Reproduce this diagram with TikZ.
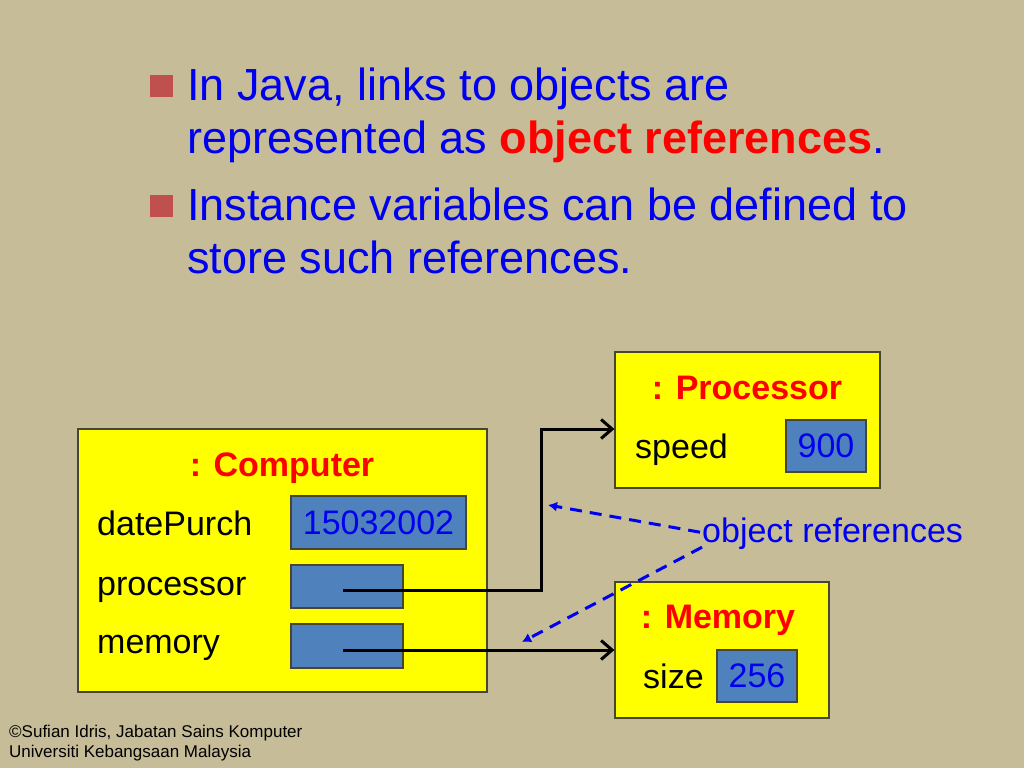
\documentclass[tikz,border=0pt]{standalone}
\usepackage{fontspec}
\setmainfont{Liberation Sans}
\usetikzlibrary{arrows.meta}
\definecolor{bg}{RGB}{198,188,151}
\definecolor{txtblue}{RGB}{0,0,240}
\definecolor{txtred}{RGB}{255,0,0}
\definecolor{bul}{RGB}{192,80,77}
\definecolor{valblue}{RGB}{79,129,189}
\definecolor{boxyellow}{RGB}{255,255,0}
\definecolor{edge}{RGB}{70,70,50}
\begin{document}
\begin{tikzpicture}[x=1pt,y=-1pt,
  big/.style={font=\fontsize{45}{54}\selectfont, text=txtblue, inner sep=0, anchor=base west},
  lbl/.style={font=\fontsize{34}{40}\selectfont, inner sep=0, anchor=base west},
  ttl/.style={font=\fontsize{34}{40}\selectfont\bfseries, text=txtred, inner sep=0, anchor=base},
  objbox/.style={draw=edge, fill=boxyellow, line width=1.2pt, inner sep=0},
  valbox/.style={draw=edge, fill=valblue, line width=1.2pt, inner sep=0, text=txtblue, font=\fontsize{34}{40}\selectfont},
  bulletsq/.style={fill=bul, inner sep=0, minimum width=23pt, minimum height=22pt},
  link/.style={line width=3pt, -{Straight Barb[length=11pt,width=19pt]}},
  refarrow/.style={line width=3pt, draw=txtblue, dash pattern=on 12pt off 8pt, -{Latex[length=9pt,width=10pt]}},
  foot/.style={font=\fontsize{17}{20}\selectfont, inner sep=0, anchor=base west}]
\fill[bg] (0,0) rectangle (1024,768);
\useasboundingbox (0,0) rectangle (1024,768);

% bullets
\node[bulletsq] (b1) at (161.5,86) {};
\node[bulletsq] (b2) at (161.5,206) {};
\node[big] (l1) at (187,100) {In Java, links to objects are};
\node[big] (l2) at (187,153) {represented as \textcolor{txtred}{\bfseries object references}.};
\node[big] (l3) at (187,220) {Instance variables can be defined to};
\node[big] (l4) at (187,273) {store such references.};

% object boxes
\node[objbox, minimum width=409pt, minimum height=263pt] (comp) at (282.5,560.5) {};
\node[objbox, minimum width=265pt, minimum height=136pt] (proc) at (747.5,420) {};
\node[objbox, minimum width=214pt, minimum height=136pt] (mem) at (722,650) {};

% computer contents
\node[ttl] (ct) at (282,476) {: Computer};
\node[lbl] (cd) at (97,535) {datePurch};
\node[lbl] (cp) at (97,595) {processor};
\node[lbl] (cm) at (97,653) {memory};
\node[valbox, minimum width=175pt, minimum height=53pt] (dv) at (378.5,522.5) {15032002};
\node[valbox, minimum width=112pt, minimum height=43pt] (pv) at (347,586.5) {};
\node[valbox, minimum width=112pt, minimum height=44pt] (mv) at (347,646) {};

% processor contents
\node[ttl] (pt) at (747,399) {: Processor};
\node[lbl] (ps) at (635,458) {speed};
\node[valbox, minimum width=80pt, minimum height=52pt] (sv) at (826,446) {900};

% memory contents
\node[ttl] (mt) at (718,628) {: Memory};
\node[lbl] (ms) at (643,688) {size};
\node[valbox, minimum width=80pt, minimum height=52pt] (zv) at (757,676) {256};

% links
\coordinate (bend) at (541,590);
\draw[link] ([xshift=-4pt]pv.center |- bend) -- (bend) |- ([yshift=-9pt]proc.west);
\draw[link] ([xshift=-4pt]mv.center |- mem.west) -- (mem.west);

% object references label
\node[lbl, text=txtblue] (refs) at (702,542) {object references};
\coordinate (r1) at (548,505);
\coordinate (r2) at (522,642);
\draw[refarrow] ([shift={(-2pt,1pt)}]refs.west) -- (r1);
\draw[refarrow] ([yshift=-14pt]refs.west) -- (r2);

% footer
\node[foot] (f1) at (9,737) {©Sufian Idris, Jabatan Sains Komputer};
\node[foot] (f2) at (9,757) {Universiti Kebangsaan Malaysia};
\end{tikzpicture}
\end{document}
